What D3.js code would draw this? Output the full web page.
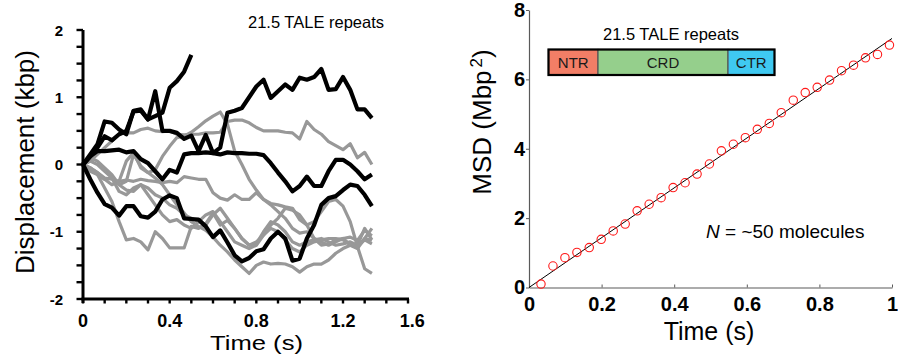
<!DOCTYPE html>
<html>
<head>
<meta charset="utf-8">
<script src="https://cdn.jsdelivr.net/npm/d3@7"></script>
<style>
  body { margin: 0; background: #fff; }
  svg { display: block; font-family: "Liberation Sans", Arial, sans-serif; }
</style>
</head>
<body>
<div id="chart"></div>
<script>
// ---- data ----
const frameTime = 1 / 30; // s between trace samples

// displacement traces (kbp), one value per frame
const blackTraces = [
  [0, 0.15, 0.3, 0.64, 0.62, 0.52, 0.45, 0.8, 0.82, 0.67, 0.72, 0.77, 1.14, 1.24, 1.38, 1.63],
  [0, 0.12, 0.25, 0.42, 0.36, 0.45, 0.5, 0.79, 0.8, 0.67, 1.09, 0.5, 0.5, 0.47, 0.38, 0.43, 0.2, 0.44, 0.17, 0.25,
   0.77, 0.8, 0.84, 1.0, 1.16, 1.26, 0.99, 1.09, 1.19, 1.11, 1.29, 1.26, 1.3, 1.42, 1.11, 1.12, 1.3, 1.11, 0.82, 0.82, 0.69],
  [0, 0.12, 0.2, 0.2, 0.21, 0.22, 0.18, 0.2, 0.08, 0.02, -0.1, -0.22, -0.08, -0.12, 0.15, 0.17, 0.17, 0.18, 0.17, 0.15,
   0.18, 0.17, 0.17, 0.16, 0.16, 0.14, 0.02, -0.12, -0.25, -0.4, -0.32, -0.18, -0.32, -0.32, -0.1, 0.07, 0.07, 0.0, -0.1, -0.22, -0.15],
  [0, -0.22, -0.42, -0.59, -0.64, -0.76, -0.62, -0.62, -0.77, -0.79, -0.7, -0.52, -0.46, -0.5, -0.8, -0.81, -0.82, -0.92, -1.08, -0.98,
   -1.16, -1.35, -1.44, -1.39, -1.29, -1.26, -1.1, -1.0, -1.1, -1.43, -1.4, -1.1, -0.9, -0.6, -0.5, -0.47, -0.38, -0.3, -0.32, -0.45, -0.62]
];

const grayTraces = [
  [0, 0.05, 0.15, 0.25, 0.35, 0.45, 0.47, 0.47, 0.52, 0.54, 0.5, 0.49, 0.5, 0.45, 0.44, 0.45, 0.45, 0.47, 0.47, 0.48,
   0.64, 0.66, 0.66, 0.62, 0.55, 0.5, 0.5, 0.5, 0.48, 0.47, 0.38, 0.64, 0.52, 0.45, 0.34, 0.28, 0.22, 0.31, 0.1, 0.18, 0.0],
  [0, -0.05, -0.15, -0.22, -0.2, -0.3, -0.25, 0.15, -0.02, -0.12, -0.08, 0.12, 0.27, 0.4, 0.42, 0.48, 0.56, 0.65, 0.72, 0.78,
   0.6, 0.2, 0.0, -0.22, -0.38, -0.52, -0.6, -0.7, -0.8, -0.95, -1.02, -1.0, -1.1, -1.15, -1.2, -1.15, -1.1, -1.2, -1.25, -1.1, -1.13],
  [0, -0.1, -0.15, -0.35, -0.55, -0.85, -1.12, -1.1, -1.15, -1.27, -1.0, -1.1, -1.24, -1.24, -1.24, -0.92, -0.95, -0.88, -0.72, -0.9,
   -0.83, -0.95, -1.1, -1.2, -1.18, -1.0, -0.85, -0.9, -1.0, -1.15, -1.2, -1.15, -1.12, -1.1, -1.15, -1.2, -1.18, -1.15, -1.2, -0.95, -1.12],
  [0, -0.05, -0.12, -0.2, -0.22, -0.25, -0.23, -0.25, -0.22, -0.24, -0.25, -0.27, -0.25, -0.27, -0.18, -0.2, -0.22, -0.22, -0.42, -0.5,
   -0.53, -0.45, -0.52, -0.52, -0.42, -0.52, -0.58, -0.6, -0.63, -0.65, -0.82, -0.9, -1.1, -1.2, -1.18, -1.12, -1.1, -1.08, -1.13, -0.98, -1.06],
  [0, -0.05, -0.12, -0.22, -0.3, -0.25, 0.05, 0.18, -0.05, -0.12, -0.2, -0.3, -0.45, -0.6, -0.72, -0.85, -0.92, -0.98, -1.08, -1.2,
   -1.3, -1.42, -1.52, -1.62, -1.5, -1.45, -1.48, -1.47, -1.48, -1.52, -1.6, -1.52, -1.48, -1.48, -1.42, -1.32, -1.25, -1.2, -1.22, -1.12, -1.18],
  [0, 0.1, 0.05, -0.05, -0.15, -0.3, -0.38, -0.4, -0.3, -0.35, -0.45, -0.5, -0.6, -0.65, -0.75, -0.8, -0.85, -0.9, -0.75, -0.65,
   -0.8, -0.95, -1.1, -1.2, -1.15, -1.05, -0.9, -0.8, -0.65, -0.68, -0.75, -0.9, -0.85, -0.7, -0.55, -0.52, -0.62, -0.85, -1.22, -1.55, -1.62],
  [0, 0.05, 0.0, -0.1, -0.2, -0.4, -0.45, -0.35, -0.3, -0.45, -0.6, -0.75, -0.85, -0.82, -0.9, -0.95, -0.85, -0.75, -0.7, -0.85,
   -1.0, -1.15, -1.2, -1.25, -1.2, -1.05, -0.95, -1.0, -1.12, -1.25, -1.3, -1.2, -1.15, -1.12, -1.1, -1.1, -1.12, -1.18, -1.22, -1.1, -0.95]
];

const leftXLabels = ['0', '0.4', '0.8', '1.2', '1.6'];
const leftXLabelAt = [0, 0.4, 0.8, 1.2, 1.52];
const leftXTicks = [0, 0.1, 0.2, 0.3, 0.4, 0.5, 0.6, 0.7, 0.8, 0.9, 1.0, 1.1, 1.2, 1.3, 1.4, 1.5];
const leftYTicks = [-2, -1.75, -1.5, -1.25, -1, -0.75, -0.5, -0.25, 0, 0.25, 0.5, 0.75, 1, 1.25, 1.5, 1.75, 2];
const leftYLabels = [-2, -1, 0, 1, 2];

// MSD vs lag time
const msdLag = [0.033, 0.066, 0.099, 0.132, 0.166, 0.199, 0.232, 0.265, 0.298, 0.331,
                0.364, 0.397, 0.430, 0.463, 0.497, 0.530, 0.563, 0.596, 0.629, 0.662,
                0.695, 0.728, 0.761, 0.794, 0.828, 0.861, 0.894, 0.927, 0.960, 0.993];
const msdValue = [0.10, 0.62, 0.86, 1.01, 1.15, 1.39, 1.63, 1.83, 2.21, 2.40,
                  2.59, 2.88, 3.02, 3.27, 3.56, 3.94, 4.13, 4.32, 4.56, 4.73,
                  5.04, 5.40, 5.62, 5.77, 5.98, 6.25, 6.41, 6.62, 6.72, 6.99];
const fitSlope = 7.18; // Mbp^2 per s
const rightXTicks = [0, 0.2, 0.4, 0.6, 0.8, 1];
const rightYTicks = [0, 2, 4, 6, 8];

const domainNames = ['NTR', 'CRD', 'CTR'];
const domainColors = ['#f27e66', '#95cf8c', '#3fc9f1'];

// ---- chart ----
const W = 898, H = 360;
const FONT = '"Liberation Sans", Arial, sans-serif';
const svg = d3.select('#chart').append('svg')
  .attr('width', W).attr('height', H);
svg.append('rect').attr('width', W).attr('height', H).attr('fill', '#fff');

// left panel: displacement traces
const xL = d3.scaleLinear().domain([0, 1.5]).range([83, 408]);
const yL = d3.scaleLinear().domain([-2, 2]).range([299, 30]);

const lineL = d3.line()
  .x((d, i) => xL(i * frameTime))
  .y(d => yL(d));

const left = svg.append('g');

left.selectAll('.gray')
  .data(grayTraces)
  .enter().append('path')
  .attr('class', 'gray')
  .attr('d', lineL)
  .attr('fill', 'none')
  .attr('stroke', '#989898')
  .attr('stroke-width', 3.2)
  .attr('stroke-linejoin', 'round');

left.selectAll('.black')
  .data(blackTraces)
  .enter().append('path')
  .attr('class', 'black')
  .attr('d', lineL)
  .attr('fill', 'none')
  .attr('stroke', '#000')
  .attr('stroke-width', 4.2)
  .attr('stroke-linejoin', 'round');

// left axes drawn by hand (thick MATLAB-like style)
const axL = left.append('g').attr('class', 'left-axes');
axL.append('line')
  .attr('x1', xL(0)).attr('x2', xL(0))
  .attr('y1', yL(2)).attr('y2', yL(-2) + 4)
  .attr('stroke', '#000').attr('stroke-width', 3);
axL.append('line')
  .attr('x1', xL(0) - 1.5).attr('x2', xL(1.5) + 1)
  .attr('y1', yL(-2)).attr('y2', yL(-2))
  .attr('stroke', '#000').attr('stroke-width', 3);
axL.selectAll('.ytick')
  .data(leftYTicks)
  .enter().append('line')
  .attr('class', 'ytick')
  .attr('x1', xL(0) - 6.5).attr('x2', xL(0))
  .attr('y1', d => yL(d)).attr('y2', d => yL(d))
  .attr('stroke', '#000').attr('stroke-width', 2.4);
axL.selectAll('.xtick')
  .data(leftXTicks)
  .enter().append('line')
  .attr('class', 'xtick')
  .attr('x1', d => xL(d)).attr('x2', d => xL(d))
  .attr('y1', yL(-2)).attr('y2', yL(-2) + 4.5)
  .attr('stroke', '#000').attr('stroke-width', 2.4);

axL.selectAll('.ylab')
  .data(leftYLabels)
  .enter().append('text')
  .attr('class', 'ylab')
  .attr('x', xL(0) - 20)
  .attr('y', d => yL(d) + 5.5)
  .attr('text-anchor', 'end')
  .attr('font-size', 15).attr('font-weight', 'bold')
  .text(d => String(d));

axL.selectAll('.xlab')
  .data(leftXLabels)
  .enter().append('text')
  .attr('class', 'xlab')
  .attr('x', (d, i) => xL(leftXLabelAt[i]))
  .attr('y', 327)
  .attr('text-anchor', 'middle')
  .attr('font-size', 18).attr('font-weight', 'bold')
  .text(d => d);

left.append('text')
  .attr('x', 210).attr('y', 350)
  .attr('textLength', 93).attr('lengthAdjust', 'spacingAndGlyphs')
  .attr('font-size', 21)
  .text('Time (s)');

left.append('text')
  .attr('transform', 'translate(34, 162) rotate(-90)')
  .attr('text-anchor', 'middle')
  .attr('font-size', 26)
  .text('Displacement (kbp)');

left.append('text')
  .attr('x', 316).attr('y', 28)
  .attr('text-anchor', 'middle')
  .attr('font-size', 16.5)
  .text('21.5 TALE repeats');

// right panel: MSD
const xR = d3.scaleLinear().domain([0, 1]).range([529, 892]);
const yR = d3.scaleLinear().domain([0, 8]).range([287.5, 10]);
const right = svg.append('g');

const xAxisR = right.append('g')
  .attr('transform', `translate(0, ${yR(0)})`)
  .call(d3.axisBottom(xR)
    .tickValues(rightXTicks)
    .tickSizeInner(-3).tickSizeOuter(0)
    .tickPadding(9)
    .tickFormat(d => String(d)));

const yAxisR = right.append('g')
  .attr('transform', `translate(${xR(0)}, 0)`)
  .call(d3.axisLeft(yR)
    .tickValues(rightYTicks)
    .tickSizeInner(3).tickSizeOuter(0)
    .tickPadding(1)
    .tickFormat(d => String(d)));

[xAxisR, yAxisR].forEach(a => {
  a.select('.domain').attr('stroke', '#5a5a5a').attr('stroke-width', 1.2);
  a.selectAll('.tick line').attr('stroke', '#5a5a5a');
  a.selectAll('text')
    .attr('font-size', 20).attr('font-weight', 'bold')
    .attr('font-family', FONT).attr('fill', '#000');
});
xAxisR.selectAll('.tick').filter(d => d === 0).select('line').remove();

right.append('line')
  .attr('x1', xR(0)).attr('y1', yR(0))
  .attr('x2', xR(1)).attr('y2', yR(fitSlope))
  .attr('stroke', '#000').attr('stroke-width', 1);

right.selectAll('circle')
  .data(msdLag)
  .enter().append('circle')
  .attr('cx', d => xR(d))
  .attr('cy', (d, i) => yR(msdValue[i]))
  .attr('r', 4.2)
  .attr('fill', 'none')
  .attr('stroke', '#ff1a1a')
  .attr('stroke-width', 1.1);

right.append('text')
  .attr('x', 709).attr('y', 340)
  .attr('text-anchor', 'middle')
  .attr('font-size', 25)
  .text('Time (s)');

const msdTitle = right.append('text')
  .attr('transform', 'translate(491, 122) rotate(-90)')
  .attr('text-anchor', 'middle')
  .attr('font-size', 26);
msdTitle.append('tspan').text('MSD (Mbp');
msdTitle.append('tspan').attr('font-size', 17).attr('dy', -9).attr('dx', 3).text('2');
msdTitle.append('tspan').attr('dy', 9).text(')');

const nText = right.append('text')
  .attr('x', 706).attr('y', 238)
  .attr('font-size', 19);
nText.append('tspan').attr('font-style', 'italic').text('N');
nText.append('tspan').text(' = ~50 molecules');

// inset: domain diagram
const boxEdges = [548.5, 598, 728, 774.5];
const boxTop = 49.5, boxH = 25.5;
const inset = right.append('g');
inset.selectAll('rect')
  .data(domainNames)
  .enter().append('rect')
  .attr('x', (d, i) => boxEdges[i])
  .attr('y', boxTop)
  .attr('width', (d, i) => boxEdges[i + 1] - boxEdges[i])
  .attr('height', boxH)
  .attr('fill', (d, i) => domainColors[i])
  .attr('stroke', '#555')
  .attr('stroke-width', 1.2);
inset.append('rect')
  .attr('x', boxEdges[0]).attr('y', boxTop)
  .attr('width', boxEdges[3] - boxEdges[0]).attr('height', boxH)
  .attr('fill', 'none').attr('stroke', '#000').attr('stroke-width', 2.2);
inset.selectAll('.dlab')
  .data(domainNames)
  .enter().append('text')
  .attr('class', 'dlab')
  .attr('x', (d, i) => (boxEdges[i] + boxEdges[i + 1]) / 2)
  .attr('y', boxTop + boxH / 2 + 5.5)
  .attr('text-anchor', 'middle')
  .attr('font-size', 15)
  .attr('fill', '#1a1a1a')
  .text(d => d);
inset.append('text')
  .attr('x', 671).attr('y', 40)
  .attr('text-anchor', 'middle')
  .attr('font-size', 16.5)
  .text('21.5 TALE repeats');
</script>
</body>
</html>
